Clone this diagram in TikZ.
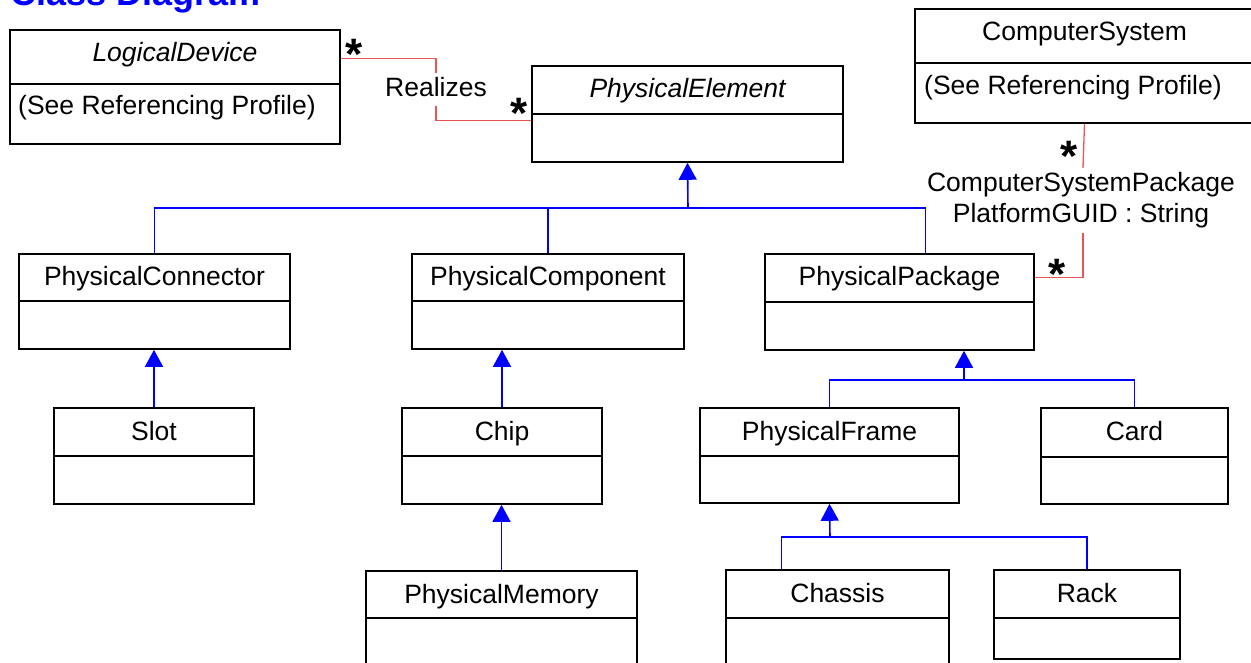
\documentclass[tikz,border=0pt]{standalone}
\usepackage{fontspec}
\setmainfont{Liberation Sans}
\usetikzlibrary{arrows.meta,calc}
\definecolor{assocred}{RGB}{236,84,84}
\definecolor{inhblue}{RGB}{0,0,255}
\tikzset{
  every node/.style={inner sep=0pt, font=\fontsize{26.5}{31}\selectfont},
  classbox/.style={draw=black, line width=1.6pt, rectangle},
  classline/.style={draw=black, line width=1.6pt},
  assoc/.style={draw=assocred, line width=1.3pt},
  inhline/.style={draw=inhblue, line width=1.3pt},
  inh/.style={draw=inhblue, line width=1.6pt, -{Triangle[length=17pt,width=18pt]}, fill=inhblue},
  mult/.style={anchor=base, font=\bfseries\fontsize{44}{44}\selectfont},
  titletext/.style={anchor=base west, font=\bfseries\fontsize{36}{40}\selectfont, text=inhblue},
}
\newcommand\umlbox[7]{%
  \node[classbox, minimum width={#4-#2}, minimum height={#5-#3}] (#1) at ({(#2+#4)/2},{(#3+#5)/2}) {};
  \draw[classline] (#2,#6) -- (#4,#6);
  \node[anchor=base] (#1-name) at ({(#2+#4)/2},{#3+32}) {#7};
}
\begin{document}
\begin{tikzpicture}[x=1pt,y=-1pt]
\useasboundingbox (0,0) rectangle (1251,663);
\clip (0,0) rectangle (1251,663);
\node[titletext] (title) at (10,6) {Class Diagram};

\umlbox{LogicalDevice}{10}{30}{340}{144}{84}{\itshape LogicalDevice}
\node[anchor=base west] (LogicalDevice-attr) at (18,115) {(See Referencing Profile)};
\umlbox{PhysicalElement}{532}{66}{843}{162}{114}{\itshape PhysicalElement}
\umlbox{ComputerSystem}{915}{9}{1254}{123}{63}{ComputerSystem}
\node[anchor=base west] (ComputerSystem-attr) at (924,95) {(See Referencing Profile)};
\umlbox{PhysicalConnector}{19}{254}{290}{349}{301}{PhysicalConnector}
\umlbox{PhysicalComponent}{412}{254}{684}{349}{301}{PhysicalComponent}
\umlbox{PhysicalPackage}{765}{254}{1034}{350}{302}{PhysicalPackage}
\umlbox{Slot}{54}{408}{254}{504}{456}{Slot}
\umlbox{Chip}{402}{408}{602}{504}{456}{Chip}
\umlbox{PhysicalFrame}{700}{408}{959}{503}{456}{PhysicalFrame}
\umlbox{Card}{1041}{408}{1228}{504}{457}{Card}
\umlbox{PhysicalMemory}{366}{571}{637}{690}{618}{PhysicalMemory}
\umlbox{Chassis}{726}{570}{949}{690}{618}{Chassis}
\umlbox{Rack}{994}{570}{1180}{659}{618}{Rack}

% Realizes association
\coordinate (r1) at (436,73);
\coordinate (r2) at (436,106);
\draw[assoc] ($(LogicalDevice.north east)+(0,29)$) -| (r1);
\draw[assoc] (r2) |- ($(PhysicalElement.north west)+(0,55)$);
\node[anchor=base] (realizes) at (436,97) {Realizes};
\node[mult] (m1) at (354,70) {*};
\node[mult] (m2) at (519,129) {*};

% ComputerSystemPackage association
\coordinate (c1) at (1083,168);
\coordinate (c2) at (1083,233);
\draw[assoc] (ComputerSystem.south) -- (c1);
\draw[assoc] (c2) |- ($(PhysicalPackage.north east)+(0,24)$);
\node[anchor=base] (csp1) at (1081,192) {ComputerSystemPackage};
\node[anchor=base] (csp2) at (1081,223) {PlatformGUID : String};
\node[mult] (m3) at (1069,172) {*};
\node[mult] (m4) at (1057,290) {*};

% inheritance
\coordinate (j1) at (688,208);
\draw[inhline] (PhysicalConnector.north) |- (j1);
\draw[inhline] (PhysicalComponent.north) |- (j1);
\draw[inhline] ($(PhysicalPackage.north west)+(161,0)$) |- (j1);
\draw[inh] (j1) -- (PhysicalElement.south);

\draw[inh] (Slot.north) -- (Slot.north |- PhysicalConnector.south);
\draw[inh] (Chip.north) -- (Chip.north |- PhysicalComponent.south);
\draw[inh] (PhysicalMemory.north) -- (PhysicalMemory.north |- Chip.south);

\coordinate (j2) at (964,380);
\draw[inhline] (PhysicalFrame.north) |- (j2);
\draw[inhline] (Card.north) |- (j2);
\draw[inh] (j2) -- (j2 |- PhysicalPackage.south);

\coordinate (j3) at (830,537);
\draw[inhline] ($(Chassis.north west)+(56,0)$) |- (j3);
\draw[inhline] (Rack.north) |- (j3);
\draw[inh] (j3) -- (PhysicalFrame.south);
\end{tikzpicture}
\end{document}
